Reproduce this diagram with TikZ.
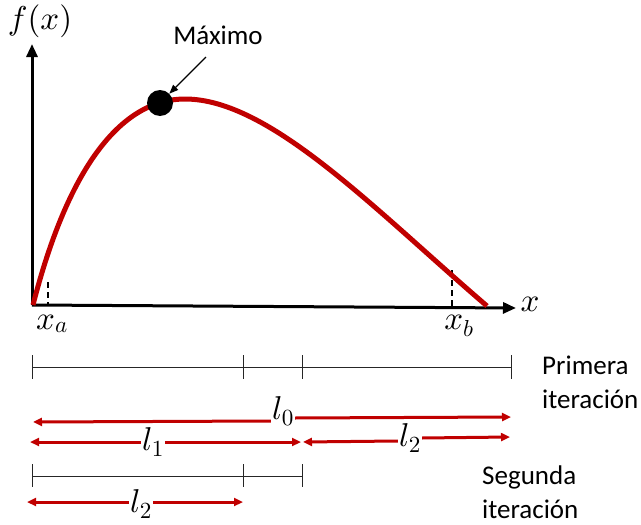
\documentclass[tikz,border=0pt]{standalone}
\DeclareFontFamily{OML}{cmm}{\skewchar\font127}
\DeclareFontShape{OML}{cmm}{m}{it}{<->cmmi10}{}
\DeclareFontShape{OML}{cmm}{b}{it}{<->cmmib10}{}
\DeclareFontFamily{OT1}{cmr}{\hyphenchar\font45}
\DeclareFontShape{OT1}{cmr}{m}{n}{<->cmr10}{}
\DeclareFontShape{OT1}{cmr}{bx}{n}{<->cmbx10}{}
\usepackage{fontspec}
\setmainfont{Carlito}
\usetikzlibrary{arrows.meta}
\definecolor{cred}{RGB}{192,0,0}
\tikzset{
  axis/.style={line width=3pt,-{Triangle[length=13pt,width=11pt]}},
  ruler/.style={line width=0.6pt,black!85},
  redright/.style={cred,line width=3pt,-{Triangle[length=9pt,width=8pt]}},
  redleft/.style={cred,line width=3pt,{Triangle[length=9pt,width=8pt]}-},
  txt/.style={font=\fontsize{27}{30}\selectfont,inner sep=0pt},
  mlab/.style={font=\fontsize{33}{37}\selectfont,inner sep=1pt},
  dashtick/.style={line width=1.8pt,dash pattern=on 6pt off 4pt},
}
\begin{document}
\begin{tikzpicture}[x=1pt,y=-1pt]
\useasboundingbox (0,0) rectangle (641,525);
% axes
\coordinate (O) at (32,305);
\coordinate (ytop) at (32,44);
\coordinate (xend) at (516,308);
\draw[axis] (O) -- (ytop);
\draw[axis] (O) -- (xend);
\node[mlab] (fx) at (40,21) {$f(x)$};
\node[mlab] (xl) at (530,304) {$x$};
% dashed ticks
\coordinate (xa1) at (48,282); \coordinate (xa2) at (48,305);
\coordinate (xb1) at (452,270); \coordinate (xb2) at (452,307);
\draw[dashtick] (xa1) -- (xa2);
\draw[dashtick] (xb1) -- (xb2);
\node[mlab] (xa) at (52,324) {$x_a$};
\node[mlab] (xb) at (459,326) {$x_b$};
% curve
\draw[cred,line width=5pt] (33,305) .. controls (70,160) and (125,99) .. (185,99)
  .. controls (270,99) and (375,210) .. (487,306);
\node[circle,fill=black,minimum size=26pt,inner sep=0pt] (max) at (160,103) {};
\node[txt] (maxl) at (218,35) {Máximo};
\draw[line width=1.2pt,-{Triangle[length=9pt,width=7pt]}] (206,57) -- (max.north east);
% first ruler
\coordinate (r1a) at (32,367); \coordinate (r1b) at (511,367);
\draw[ruler] (r1a) -- (r1b);
\foreach \x in {32,243,302,511} \draw[ruler] (\x,355) -- (\x,379);
\node[txt,align=left,anchor=west] (prim) at (542,382) {Primera\\[4pt]iteración};
% l0
\node[mlab] (l0) at (283,411) {$l_0$};
\coordinate (l0a) at (33,422); \coordinate (l0b) at (511,417);
\draw[redleft] (l0a) -- (l0.west |- 0,421);
\draw[redright] (l0.east |- 0,418) -- (l0b);
% l1
\node[mlab] (l1) at (153,442) {$l_1$};
\coordinate (l1a) at (30,442); \coordinate (l1b) at (301,442);
\draw[redleft] (l1a) -- (l1.west |- l1a);
\draw[redright] (l1.east |- l1a) -- (l1b);
% l2 right
\node[mlab] (l2r) at (410,438) {$l_2$};
\coordinate (l2a) at (303,442); \coordinate (l2b) at (510,437);
\draw[redleft] (l2a) -- (l2r.west |- 0,441);
\draw[redright] (l2r.east |- 0,438) -- (l2b);
% second ruler
\coordinate (r2a) at (32,476); \coordinate (r2b) at (302,476);
\draw[ruler] (r2a) -- (r2b);
\foreach \x in {32,243,302} \draw[ruler] (\x,464) -- (\x,487);
\node[txt,align=left,anchor=west] (seg) at (482,492) {Segunda\\[4pt]iteración};
% l2 bottom
\node[mlab] (l2b2) at (141,504) {$l_2$};
\coordinate (l3a) at (27,502); \coordinate (l3b) at (243,502);
\draw[redleft] (l3a) -- (l2b2.west |- l3a);
\draw[redright] (l2b2.east |- l3a) -- (l3b);
\end{tikzpicture}
\end{document}
